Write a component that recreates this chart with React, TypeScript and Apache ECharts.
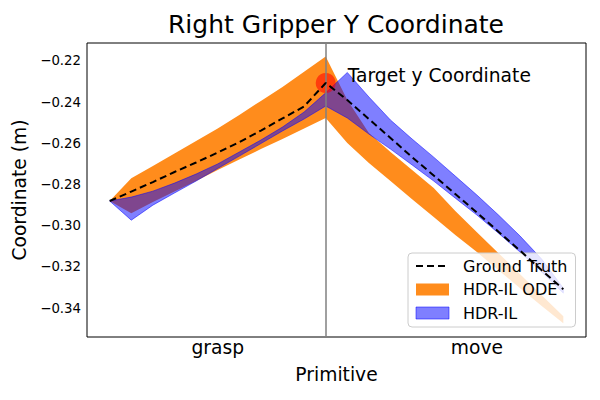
import React, { useEffect, useRef } from "react";
import * as echarts from "echarts";

// step index along the trajectory (grasp: 0..10, move: 10..21)
const steps = [0, 1, 2, 3, 4, 5, 6, 7, 8, 9, 10, 11, 12, 13, 14, 15, 16, 17, 18, 19, 20, 21];
const primitiveNames = ["grasp", "move"];
const primitiveTickPos = [5, 17];
const boundaryStep = 10;
const yTicks = [-0.34, -0.32, -0.3, -0.28, -0.26, -0.24, -0.22];

const groundTruth = [-0.2880, -0.2834, -0.2788, -0.2739, -0.2693, -0.2645, -0.2594, -0.2538, -0.2479, -0.2421, -0.2307,
  -0.2390, -0.2482, -0.2574, -0.2667, -0.2756, -0.2846, -0.2936, -0.3029, -0.3121, -0.3216, -0.3308];
const odeUpper = [-0.2880, -0.2770, -0.2710, -0.2649, -0.2589, -0.2528, -0.2462, -0.2394, -0.2326, -0.2253, -0.2178,
  -0.2390, -0.2550, -0.2642, -0.2730, -0.2817, -0.2929, -0.3031, -0.3133, -0.3235, -0.3337, -0.3439];
const odeLower = [-0.2880, -0.2939, -0.2885, -0.2834, -0.2783, -0.2730, -0.2679, -0.2628, -0.2579, -0.2528, -0.2477,
  -0.2598, -0.2696, -0.2783, -0.2871, -0.2958, -0.3045, -0.3128, -0.3216, -0.3303, -0.3390, -0.3473];
const hdrUpper = [-0.2880, -0.2861, -0.2832, -0.2793, -0.2749, -0.2700, -0.2642, -0.2584, -0.2521, -0.2448, -0.2355,
  -0.2256, -0.2375, -0.2487, -0.2579, -0.2667, -0.2759, -0.2851, -0.2948, -0.3050, -0.3162, -0.3303];
const hdrLower = [-0.2880, -0.2973, -0.2900, -0.2841, -0.2783, -0.2722, -0.2662, -0.2601, -0.2540, -0.2482, -0.2419,
  -0.2477, -0.2555, -0.2628, -0.2705, -0.2783, -0.2866, -0.2948, -0.3036, -0.3128, -0.3225, -0.3327];
const targetY = -0.2307;

const FONT = "DejaVu Sans";
const ORANGE = "rgb(255,140,28)";
const BLUE = "rgba(0,0,255,0.5)";

function bandSeries(name: string, lower: number[], upper: number[], fill: string, stroke: string | null, z: number) {
  return {
    type: "custom",
    name,
    z,
    itemStyle: { color: fill },
    data: steps.map((s, i) => [s, lower[i], upper[i]]),
    encode: { x: 0, y: [1, 2] },
    renderItem: (params: any, api: any) => {
      if (params.dataIndex !== 0) return null;
      const top = steps.map((s, i) => api.coord([s, upper[i]]));
      const bottom = steps.map((s, i) => api.coord([s, lower[i]])).reverse();
      return {
        type: "polygon",
        shape: { points: top.concat(bottom) },
        style: { fill, stroke: stroke || "none", lineWidth: stroke ? 1 : 0 },
      };
    },
  };
}

export default function App() {
  const ref = useRef<HTMLDivElement>(null);
  useEffect(() => {
    if (!ref.current) return;
    const chart = echarts.init(ref.current, undefined, { renderer: "svg" });
    const fmtY = (v: number) => (v < 0 ? "\u2212" : "") + Math.abs(v).toFixed(2);
    chart.setOption({
      animation: false,
      backgroundColor: "#fff",
      textStyle: { fontFamily: FONT, color: "#000" },
      title: {
        text: "Right Gripper Y Coordinate",
        left: 336,
        top: 12,
        textAlign: "center",
        padding: 0,
        textStyle: { fontSize: 25, fontWeight: "normal", color: "#000", fontFamily: FONT },
      },
      grid: {
        left: 87,
        top: 43,
        right: 14,
        bottom: 63,
        show: true,
        borderColor: "#000",
        borderWidth: 1,
        backgroundColor: "transparent",
      },
      legend: {
        orient: "vertical",
        left: 408,
        top: 253,
        padding: [4, 8, 5, 7],
        itemWidth: 33,
        itemHeight: 12,
        itemGap: 5.5,
        backgroundColor: "rgba(255,255,255,0.8)",
        borderColor: "#cccccc",
        borderWidth: 1,
        borderRadius: 4,
        textStyle: { fontSize: 16, fontFamily: FONT, color: "#000", lineHeight: 18, padding: [0, 0, 0, 9] },
        data: [
          { name: "Ground Truth", itemStyle: { color: "transparent", opacity: 0, borderWidth: 0 } },
          { name: "HDR-IL ODE", icon: "rect", itemStyle: { color: ORANGE } },
          { name: "HDR-IL", icon: "rect", itemStyle: { color: BLUE, borderColor: BLUE, borderWidth: 1 } },
        ],
      },
      xAxis: {
        type: "value",
        min: -1.05,
        max: 22.05,
        name: "Primitive",
        nameLocation: "middle",
        nameGap: 28,
        nameTextStyle: { fontSize: 18.7, fontFamily: FONT, color: "#000" },
        axisLine: { show: false },
        axisTick: { show: false },
        splitLine: { show: false },
        axisLabel: {
          customValues: primitiveTickPos,
          formatter: (v: number) => primitiveNames[primitiveTickPos.indexOf(v)] ?? "",
          fontSize: 18.7,
          fontFamily: FONT,
          color: "#000",
          margin: 1,
        },
      },
      yAxis: {
        type: "value",
        min: -0.354,
        max: -0.2113,
        name: "Coordinate (m)",
        nameLocation: "middle",
        nameGap: 51,
        nameTextStyle: { fontSize: 18.7, fontFamily: FONT, color: "#000" },
        axisLine: { show: false },
        axisTick: { show: false },
        splitLine: { show: false },
        axisLabel: {
          customValues: yTicks,
          formatter: fmtY,
          fontSize: 13.3,
          fontFamily: FONT,
          color: "#000",
          margin: 6,
        },
      },
      series: [
        bandSeries("HDR-IL ODE", odeLower, odeUpper, ORANGE, null, 1),
        bandSeries("HDR-IL", hdrLower, hdrUpper, BLUE, BLUE, 2),
        {
          type: "line",
          name: "boundary",
          data: [],
          z: 3,
          markLine: {
            silent: true,
            symbol: ["none", "none"],
            label: { show: false },
            lineStyle: { color: "#808080", width: 1.5, type: "solid" },
            data: [{ xAxis: boundaryStep }],
          },
        },
        {
          type: "scatter",
          name: "target",
          z: 4,
          symbolSize: 20,
          itemStyle: { color: "rgba(255,0,0,0.7)" },
          data: [[boundaryStep, targetY]],
          label: {
            show: true,
            position: "right",
            distance: 12,
            offset: [0, -7],
            formatter: "Target y Coordinate",
            fontSize: 18.7,
            fontFamily: FONT,
            color: "#000",
            opacity: 1,
            textBorderWidth: 0,
          },
        },
        {
          type: "line",
          name: "Ground Truth",
          z: 5,
          symbol: "none",
          data: steps.map((s, i) => [s, groundTruth[i]]),
          itemStyle: { color: "#000" },
          lineStyle: { color: "#000", width: 2, type: [7, 4] },
        },
      ],
    });
    return () => chart.dispose();
  }, []);
  return <div ref={ref} style={{ position: "fixed", left: 0, top: 0, width: 600, height: 400 }} />;
}
